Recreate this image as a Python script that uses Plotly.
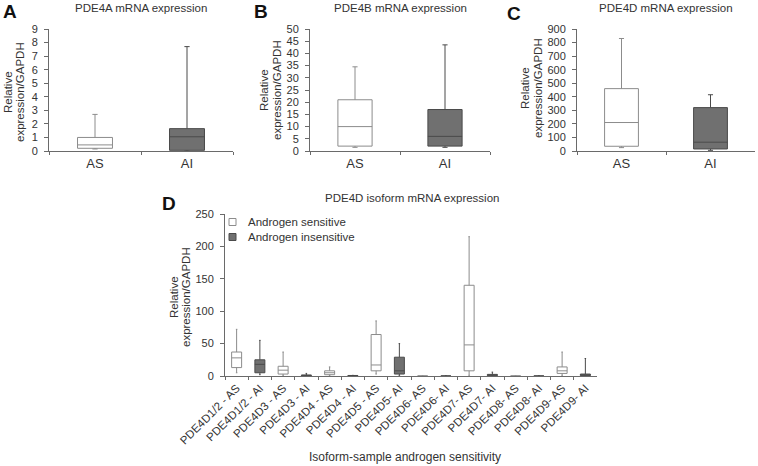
import plotly.graph_objects as go

# ---------------- data ----------------
groups = ["AS", "AI"]

pde4a_lower = [0.15, 0.0]
pde4a_q1 = [0.2, 0.05]
pde4a_median = [0.45, 1.05]
pde4a_q3 = [1.0, 1.65]
pde4a_upper = [2.7, 7.7]

pde4b_lower = [1.5, 1.5]
pde4b_q1 = [2.0, 2.0]
pde4b_median = [10.0, 6.0]
pde4b_q3 = [21.0, 17.0]
pde4b_upper = [34.5, 43.5]

pde4d_lower = [25, 5]
pde4d_q1 = [35, 15]
pde4d_median = [210, 65]
pde4d_q3 = [460, 320]
pde4d_upper = [830, 415]

iso_as_labels = ["PDE4D1/2 - AS", "PDE4D3 - AS", "PDE4D4 - AS", "PDE4D5 - AS",
                 "PDE4D6- AS", "PDE4D7- AS", "PDE4D8- AS", "PDE4D9- AS"]
iso_ai_labels = ["PDE4D1/2 - AI", "PDE4D3 - AI", "PDE4D4 - AI", "PDE4D5- AI",
                 "PDE4D6- AI", "PDE4D7- AI", "PDE4D8- AI", "PDE4D9- AI"]
iso_as_lower = [5, 1, 0.5, 3, 0, 1, 0, 1]
iso_as_q1 = [13, 3, 2, 8, 0, 8, 0, 4]
iso_as_median = [28, 9, 5, 17, 0, 48, 0, 8]
iso_as_q3 = [37, 15, 8, 64, 0, 140, 0, 14]
iso_as_upper = [72, 37, 14, 85, 0, 215, 0, 37]

iso_ai_lower = [2, 0, 0, 1, 0, 0, 0, 0]
iso_ai_q1 = [5, 0.5, 0.2, 3, 0, 0.5, 0, 0.5]
iso_ai_median = [18, 1, 0.5, 8, 0, 1.5, 0, 1.5]
iso_ai_q3 = [25, 1.5, 0.8, 29, 0, 2.5, 0, 3]
iso_ai_upper = [55, 4, 1, 50, 0, 6, 0, 27]

legend_labels = ["Androgen sensitive", "Androgen insensitive"]

iso_order = [lab for pair in zip(iso_as_labels, iso_ai_labels) for lab in pair]

# ---------------- style ----------------
FONT = "Liberation Sans, Arial, sans-serif"
TXT = "#333333"
AXC = "#6a6a6a"
AS_FILL, AS_LINE = "#ffffff", "#8c8c8c"
AI_FILL, AI_LINE = "#707070", "#4a4a4a"

W, H = 758, 466
def px(x):
    return x / W
def py(y):
    return 1 - y / H

fig = go.Figure()

def add_box(x, lower, q1, med, q3, upper, fill, line, xa, ya, width, name=""):
    fig.add_trace(go.Box(
        x=x, lowerfence=lower, q1=q1, median=med, q3=q3, upperfence=upper,
        fillcolor=fill, line=dict(color=line, width=1), whiskerwidth=0.15,
        width=width, boxpoints=False, hoverinfo="skip",
        xaxis=xa, yaxis=ya, name=name, showlegend=False,
    ))

panels = [
    ("x", "y", pde4a_lower, pde4a_q1, pde4a_median, pde4a_q3, pde4a_upper),
    ("x2", "y2", pde4b_lower, pde4b_q1, pde4b_median, pde4b_q3, pde4b_upper),
    ("x3", "y3", pde4d_lower, pde4d_q1, pde4d_median, pde4d_q3, pde4d_upper),
]
for xa, ya, lo, a, m, b, up in panels:
    add_box([groups[0]], [lo[0]], [a[0]], [m[0]], [b[0]], [up[0]], AS_FILL, AS_LINE, xa, ya, 0.38)
    add_box([groups[1]], [lo[1]], [a[1]], [m[1]], [b[1]], [up[1]], AI_FILL, AI_LINE, xa, ya, 0.38)

add_box(iso_as_labels, iso_as_lower, iso_as_q1, iso_as_median, iso_as_q3, iso_as_upper,
        AS_FILL, AS_LINE, "x4", "y4", 0.43, name=legend_labels[0])
add_box(iso_ai_labels, iso_ai_lower, iso_ai_q1, iso_ai_median, iso_ai_q3, iso_ai_upper,
        AI_FILL, AI_LINE, "x4", "y4", 0.43, name=legend_labels[1])

common = dict(showline=True, linecolor=AXC, linewidth=1, ticks="outside", tickcolor=AXC,
              showgrid=False, zeroline=False, automargin=False,
              tickfont=dict(family=FONT, color=TXT, size=11))

def xcat(domain, anchor, cats, rng, size=13, angle=0):
    d = dict(common)
    d.update(domain=domain, anchor=anchor, type="category", categoryorder="array",
             categoryarray=cats, range=rng, tickson="boundaries", ticklen=3,
             tickfont=dict(family=FONT, color=TXT, size=size), tickangle=angle)
    return d

def yax(domain, anchor, rng, dt):
    d = dict(common)
    d.update(domain=domain, anchor=anchor, range=rng, dtick=dt, ticklen=4, ticklabelstandoff=4)
    return d

top_dom = [py(151), py(29)]
d_dom = [py(376), py(214)]

fig.update_layout(
    template="none",
    width=W, height=H, margin=dict(l=0, r=0, t=0, b=0, pad=0),
    paper_bgcolor="white", plot_bgcolor="white",
    boxmode="overlay", showlegend=False,
    font=dict(family=FONT, color=TXT, size=11),
    xaxis=xcat([px(49), px(233)], "y", groups, [-0.5, 1.5]),
    yaxis=yax(top_dom, "x", [0, 9], 1),
    xaxis2=xcat([px(310), px(490)], "y2", groups, [-0.5, 1.5]),
    yaxis2=yax(top_dom, "x2", [0, 50], 5),
    xaxis3=xcat([px(577), px(755)], "y3", groups, [-0.5, 1.5]),
    yaxis3=yax(top_dom, "x3", [0, 900], 100),
    xaxis4=xcat([px(225), px(597)], "y4", iso_order, [-0.5, 15.5], size=11.5, angle=-45),
    yaxis4=yax(d_dom, "x4", [0, 250], 50),
)

ann = []
def text(x, y, s, size=11, bold=False, angle=0, color=TXT, xanchor="center"):
    ann.append(dict(x=px(x), y=py(y), xref="paper", yref="paper", text=(f"<b>{s}</b>" if bold else s),
                    showarrow=False, xanchor=xanchor, yanchor="middle", textangle=angle,
                    font=dict(family=FONT, size=size, color=color)))

# panel letters
text(10, 12, "A", 19, True, color="#111111")
text(261, 12, "B", 19, True, color="#111111")
text(514, 13, "C", 19, True, color="#111111")
text(169, 203, "D", 19, True, color="#111111")
# titles
text(141, 8, "PDE4A mRNA expression", 11.5)
text(400, 8, "PDE4B mRNA expression", 11.5)
text(666, 8, "PDE4D mRNA expression", 11.5)
text(412, 198, "PDE4D isoform mRNA expression", 11.5)
# y-axis titles
for xr, xe, yc in [(8, 20, 92), (264, 277, 90), (525, 538, 88), (174, 186, 297)]:
    text(xr, yc, "Relative", 11.5, angle=-90)
    text(xe, yc, "expression/GAPDH", 11.5, angle=-90)
# D x title
text(405, 457, "Isoform-sample androgen sensitivity", 12)

# legend (swatches + labels)
shapes = []
for i, (lab, fill, line) in enumerate([(legend_labels[0], AS_FILL, AS_LINE),
                                        (legend_labels[1], AI_FILL, AI_LINE)]):
    yc = 222 + 15 * i
    shapes.append(dict(type="rect", xref="paper", yref="paper",
                       x0=px(229), x1=px(236), y0=py(yc + 3.5), y1=py(yc - 3.5),
                       fillcolor=fill, line=dict(color=line, width=1)))
    text(246, yc, lab, 11.5, xanchor="left")

fig.update_layout(annotations=ann, shapes=shapes)
fig.write_html("out.html", config={"displayModeBar": False, "staticPlot": True},
               post_script="document.body.style.margin='0px';")
